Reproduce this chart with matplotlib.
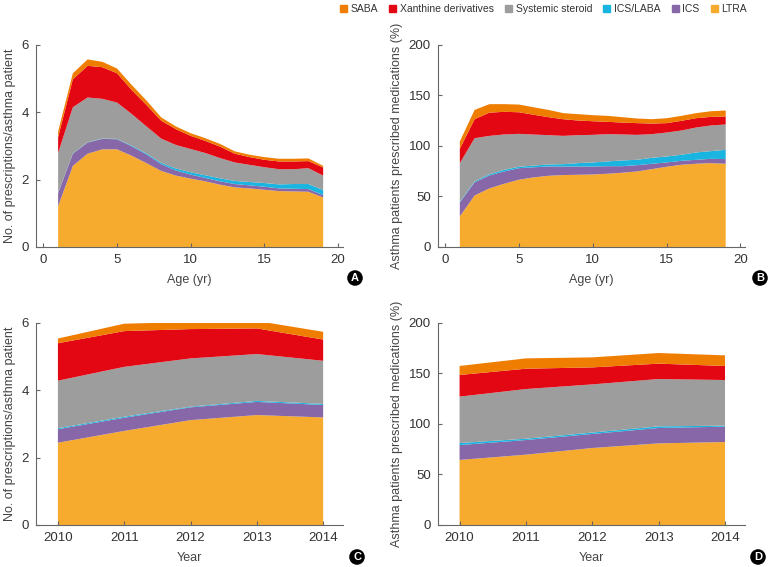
import matplotlib
matplotlib.use('Agg')
import matplotlib.pyplot as plt
import matplotlib.patches as mpatches

plt.rcParams['font.family'] = ['Liberation Sans', 'DejaVu Sans']

# ---- data ----
ilaclar = ['SABA', 'Xanthine derivatives', 'Systemic steroid', 'ICS/LABA', 'ICS', 'LTRA']
renkler = {'SABA': '#ee7d00', 'Xanthine derivatives': '#e30613',
           'Systemic steroid': '#9d9d9d', 'ICS/LABA': '#1ab4e0',
           'ICS': '#8767a8', 'LTRA': '#f6ab2f'}

yas = list(range(1, 20))
yillar = [2010, 2011, 2012, 2013, 2014]

# A: prescriptions per patient by age
ltra_a = [1.21, 2.41, 2.77, 2.90, 2.90, 2.71, 2.49, 2.26, 2.12, 2.03, 1.95, 1.85, 1.77, 1.74, 1.70, 1.66, 1.65, 1.64, 1.47]
ics_a = [0.39, 0.36, 0.33, 0.31, 0.30, 0.28, 0.26, 0.20, 0.15, 0.12, 0.10, 0.10, 0.10, 0.09, 0.09, 0.08, 0.08, 0.08, 0.07]
icslaba_a = [0.01, 0.01, 0.01, 0.01, 0.01, 0.02, 0.03, 0.04, 0.06, 0.07, 0.08, 0.09, 0.09, 0.10, 0.11, 0.12, 0.14, 0.15, 0.15]
steroid_a = [1.18, 1.37, 1.33, 1.18, 1.08, 0.94, 0.80, 0.72, 0.70, 0.69, 0.66, 0.60, 0.55, 0.51, 0.47, 0.45, 0.44, 0.47, 0.43]
xanthine_a = [0.47, 0.83, 0.94, 0.94, 0.87, 0.71, 0.64, 0.53, 0.47, 0.39, 0.36, 0.34, 0.26, 0.23, 0.22, 0.23, 0.23, 0.21, 0.24]
saba_a = [0.17, 0.18, 0.19, 0.16, 0.14, 0.15, 0.13, 0.10, 0.08, 0.08, 0.08, 0.08, 0.07, 0.07, 0.08, 0.08, 0.08, 0.08, 0.05]

# B: % of patients prescribed by age
ltra_b = [30.3, 51.0, 58.0, 62.6, 66.6, 68.9, 70.5, 71.2, 71.5, 71.8, 72.5, 73.5, 74.8, 77.1, 79.4, 81.4, 82.4, 83.0, 82.4]
ics_b = [13.7, 13.0, 12.8, 12.2, 11.4, 10.0, 9.2, 8.5, 8.2, 7.9, 7.5, 6.5, 6.2, 5.3, 4.3, 3.9, 3.9, 4.3, 4.6]
icslaba_b = [0.8, 0.9, 1.2, 1.6, 1.4, 1.7, 2.0, 2.3, 3.3, 4.0, 4.7, 5.7, 5.3, 5.9, 5.9, 6.0, 7.3, 7.6, 9.2]
steroid_b = [38.2, 42.8, 38.0, 35.0, 32.6, 30.7, 29.0, 28.0, 27.7, 27.3, 27.0, 25.7, 24.7, 23.4, 23.7, 24.0, 24.7, 25.4, 25.1]
xanthine_b = [14.2, 18.8, 23.0, 22.4, 21.4, 19.6, 17.8, 16.5, 14.5, 13.5, 12.2, 11.8, 11.6, 10.5, 9.3, 9.6, 9.2, 8.5, 7.9]
saba_b = [7.2, 9.2, 8.4, 7.6, 7.6, 7.4, 7.2, 6.0, 6.3, 6.0, 5.9, 5.3, 4.6, 4.3, 4.9, 4.9, 5.0, 5.6, 5.9]

# C: prescriptions per patient by year
ltra_c = [2.44, 2.79, 3.11, 3.26, 3.19]
ics_c = [0.40, 0.39, 0.38, 0.39, 0.37]
icslaba_c = [0.03, 0.03, 0.02, 0.03, 0.03]
steroid_c = [1.41, 1.48, 1.43, 1.39, 1.28]
xanthine_c = [1.11, 1.06, 0.87, 0.76, 0.63]
saba_c = [0.14, 0.22, 0.21, 0.22, 0.23]

# D: % of patients prescribed by year
ltra_d = [64.3, 69.5, 76.1, 80.7, 82.0]
ics_d = [14.7, 14.5, 13.9, 15.2, 15.2]
icslaba_d = [2.0, 1.3, 1.4, 1.6, 1.0]
steroid_d = [45.9, 49.1, 47.6, 46.8, 45.1]
xanthine_d = [21.4, 20.1, 16.8, 15.2, 13.9]
saba_d = [8.9, 10.2, 9.9, 10.5, 10.5]

fig = plt.figure(figsize=(7.7, 5.67), dpi=100)

kutu = {'A': [0.0468, 0.5644, 0.3987, 0.3563],
        'B': [0.5684, 0.5644, 0.3990, 0.3563],
        'C': [0.0468, 0.0741, 0.3987, 0.3568],
        'D': [0.5684, 0.0741, 0.3990, 0.3568]}

sira = ['LTRA', 'ICS', 'ICS/LABA', 'Systemic steroid', 'Xanthine derivatives', 'SABA']
renk_sira = [renkler[k] for k in sira]

def ciz(harf, x, seriler, ymax, ystep, xlab, ylab, xlim, xticks):
    ax = fig.add_axes(kutu[harf])
    ax.stackplot(x, *seriler, colors=renk_sira, linewidth=0)
    ax.set_xlim(*xlim)
    ax.set_ylim(0, ymax)
    ax.set_xticks(xticks)
    ax.set_yticks(range(0, ymax + 1, ystep))
    for s in ['top', 'right']:
        ax.spines[s].set_visible(False)
    for s in ['left', 'bottom']:
        ax.spines[s].set_color('#666666')
        ax.spines[s].set_linewidth(0.8)
    ax.tick_params(direction='in', length=3, width=0.8, color='#666666',
                   labelsize=9.5, labelcolor='#333333', pad=5)
    ax.set_xlabel(xlab, fontsize=9, color='#444444', labelpad=6)
    ax.set_ylabel(ylab, fontsize=9, color='#444444', labelpad=4)
    return ax

ciz('A', yas, [ltra_a, ics_a, icslaba_a, steroid_a, xanthine_a, saba_a], 6, 2,
    'Age (yr)', 'No. of prescriptions/asthma patient', (-0.5, 20.35), [0, 5, 10, 15, 20])
ciz('B', yas, [ltra_b, ics_b, icslaba_b, steroid_b, xanthine_b, saba_b], 200, 50,
    'Age (yr)', 'Asthma patients prescribed medications (%)', (-0.5, 20.3), [0, 5, 10, 15, 20])
ciz('C', yillar, [ltra_c, ics_c, icslaba_c, steroid_c, xanthine_c, saba_c], 6, 2,
    'Year', 'No. of prescriptions/asthma patient', (2009.67, 2014.3), yillar)
ciz('D', yillar, [ltra_d, ics_d, icslaba_d, steroid_d, xanthine_d, saba_d], 200, 50,
    'Year', 'Asthma patients prescribed medications (%)', (2009.67, 2014.3), yillar)

# panel letters
for harf, (px, py) in {'A': (355, 278), 'B': (760, 278), 'C': (357, 557), 'D': (758, 557)}.items():
    fig.text(px / 770, 1 - py / 567, harf, ha='center', va='center', color='white',
             fontsize=8, fontweight='bold',
             bbox=dict(boxstyle='circle,pad=0.25', fc='black', ec='none'))

# legend
eller = [mpatches.Patch(color=renkler[k], label=k) for k in ilaclar]
fig.legend(handles=eller, loc='center right', bbox_to_anchor=(747 / 770, 1 - 9 / 567), ncol=6,
           frameon=False, fontsize=7.5, handlelength=0.65, handleheight=0.65,
           handletextpad=0.35, columnspacing=1.1, borderaxespad=0, borderpad=0,
           labelcolor='#333333')

plt.savefig('out.png', dpi=100, facecolor='white')
